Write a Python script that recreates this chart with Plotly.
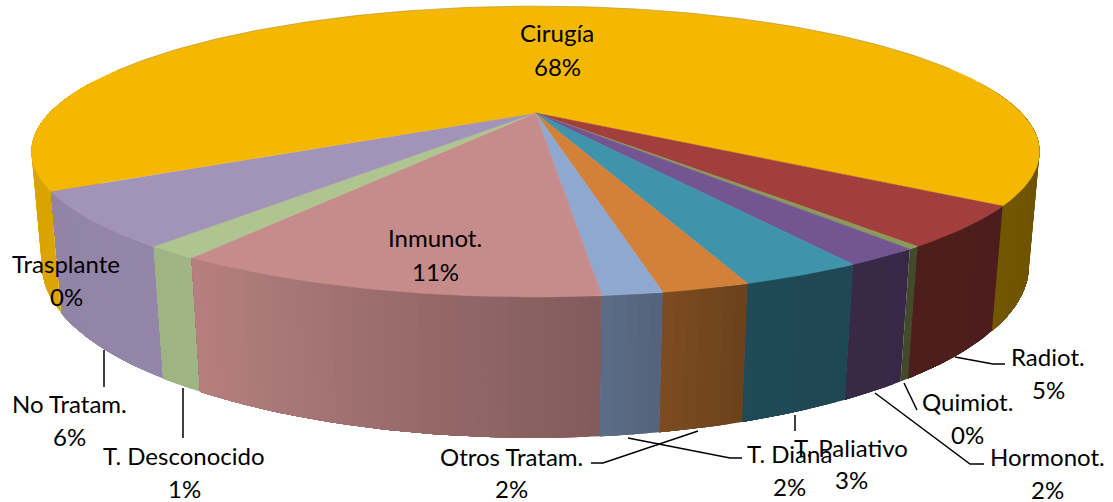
import math
import plotly.graph_objects as go

# Data
categories = ["Cirugía", "Radiot.", "Quimiot.", "Hormonot.", "T. Paliativo", "Otros Tratam.",
              "T. Diana", "Inmunot.", "T. Desconocido", "No Tratam.", "Trasplante"]
values = [68.2, 4.4, 0.3, 2.0, 3.1, 2.2, 1.5, 10.9, 1.4, 5.9, 0.1]
shown_pct = ["68%", "5%", "0%", "2%", "3%", "2%", "2%", "11%", "1%", "6%", "0%"]
top_colors = ["#F5B800", "#A23F3C", "#8A9A58", "#735592", "#3F93AB", "#D38038",
              "#8EA8D0", "#C68B8B", "#AEC58F", "#A293B8", "#F5B800"]
first_slice_angle = -209.9

# Label positions (x, y of name line, y of value line)
label_xy = [(557, 32, 66), (1048, 356, 389), (967, 401, 434), (1047, 456, 489), (851, 447, 479),
            (511, 456, 488), (789, 453, 486), (435, 237, 271), (184, 455, 488), (69, 403, 436), (66, 263, 296)]

leaders = [
    [(955, 357), (993, 364), (1005, 364)],
    [(904, 383), (917, 410)],
    [(875, 393), (970, 464), (984, 464)],
    [(795, 415), (795, 431)],
    [(628, 438), (730, 458), (742, 458)],
    [(698, 431), (603, 463), (591, 463)],
    [(183, 388), (183, 438)],
    [(104, 350), (104, 387)],
]

# Projection parameters for the tilted disc
CX, CY, A, B, K, H, M = 535.5, 113.0, 486.0, 135.2, 0.265, 110.0, 0.02
shade_angles = [-30, 0, 35, 70, 85, 123, 150, 210]
shade_levels = [0.44, 0.44, 0.47, 0.50, 0.66, 0.92, 0.90, 0.88]


def project(theta, bottom=False):
    u = math.cos(math.radians(theta))
    v = math.sin(math.radians(theta))
    s = 1 - K * v + (M if bottom else 0)
    return CX + A * u / s, CY + (B * v + (H if bottom else 0)) / s


def shade(theta):
    t = ((theta + 30) % 360) - 30
    t = min(t, 210)
    for i in range(len(shade_angles) - 1):
        if shade_angles[i] <= t <= shade_angles[i + 1]:
            f = (t - shade_angles[i]) / (shade_angles[i + 1] - shade_angles[i])
            return shade_levels[i] + f * (shade_levels[i + 1] - shade_levels[i])
    return shade_levels[-1]


def darken(col, f):
    r, g, b = int(col[1:3], 16), int(col[3:5], 16), int(col[5:7], 16)
    return f"rgb({int(r*f)},{int(g*f)},{int(b*f)})"


total = sum(values)
bounds = [first_slice_angle]
for val in values:
    bounds.append(bounds[-1] + val / total * 360)

fig = go.Figure()


def add_poly(xs, ys, color, lw=0.0):
    fig.add_trace(go.Scatter(x=xs, y=ys, mode="lines", fill="toself", fillcolor=color,
                             line=dict(color=color, width=lw), hoverinfo="skip", showlegend=False))


def wall(t0, t1, color):
    steps = max(1, int(abs(t1 - t0)))
    ts = [t0 + (t1 - t0) * j / steps for j in range(steps + 1)]
    up = [project(t) for t in ts]
    lo = [project(t, bottom=True) for t in reversed(ts)]
    pts = up + lo + up[:1]
    add_poly([p[0] for p in pts], [p[1] for p in pts], color)


# Side wall: visible slices, far to near; each slice gets bands that overlap to avoid seams
order = sorted(range(len(values)),
               key=lambda i: math.sin(math.radians((bounds[i] + bounds[i + 1]) / 2)))
VIS_RIGHT, VIS_LEFT = -14.0, -166.0
for i in order:
    a0, a1 = bounds[i], bounds[i + 1]
    # the largest slice wraps the back of the disc: only its two visible ends are drawn
    pieces = [(a0, VIS_LEFT), (VIS_RIGHT, a1)] if i == 0 else [(a0, a1)]
    for p0, p1 in pieces:
        n = max(1, int((p1 - p0) / 1.0))
        for j in range(n):
            t0 = p0 + (p1 - p0) * j / n
            tm = p0 + (p1 - p0) * (j + 0.5) / n
            wall(t0, p1, darken(top_colors[i], shade(tm)))

# Top face of every slice
for i in range(len(values)):
    a0, a1 = bounds[i], bounds[i + 1]
    n = max(2, int(abs(a1 - a0)))
    pts = [project(a0 + (a1 - a0) * j / n) for j in range(n + 1)]
    add_poly([CX] + [q[0] for q in pts] + [CX], [CY] + [q[1] for q in pts] + [CY], top_colors[i], 0.5)

# Faint rim along the back of the disc
rim = [project(t) for t in range(-160, -20)]
fig.add_trace(go.Scatter(x=[p[0] for p in rim], y=[p[1] for p in rim], mode="lines",
                         line=dict(color="rgba(120,120,120,0.35)", width=1),
                         hoverinfo="skip", showlegend=False))

annotations = []
for name, pct, (lx, ly1, ly2) in zip(categories, shown_pct, label_xy):
    for txt, ly in ((name, ly1), (pct, ly2)):
        annotations.append(dict(x=lx, y=ly, text=txt, showarrow=False, xanchor="center", yanchor="middle",
                                font=dict(family="Lato", size=24, color="#000000")))

shapes = []
for line in leaders:
    path = "M " + " L ".join(f"{x},{y}" for x, y in line)
    shapes.append(dict(type="path", path=path, line=dict(color="#000000", width=1.5), layer="above"))

fig.update_layout(
    width=1113, height=502, margin=dict(l=0, r=0, t=0, b=0),
    paper_bgcolor="#FFFFFF", plot_bgcolor="#FFFFFF", showlegend=False,
    xaxis=dict(range=[0, 1113], visible=False, fixedrange=True),
    yaxis=dict(range=[502, 0], visible=False, fixedrange=True),
    annotations=annotations, shapes=shapes,
)
fig.write_html("out.html", config={"displayModeBar": False},
               post_script="document.body.style.margin='0';document.body.style.overflow='hidden';")
